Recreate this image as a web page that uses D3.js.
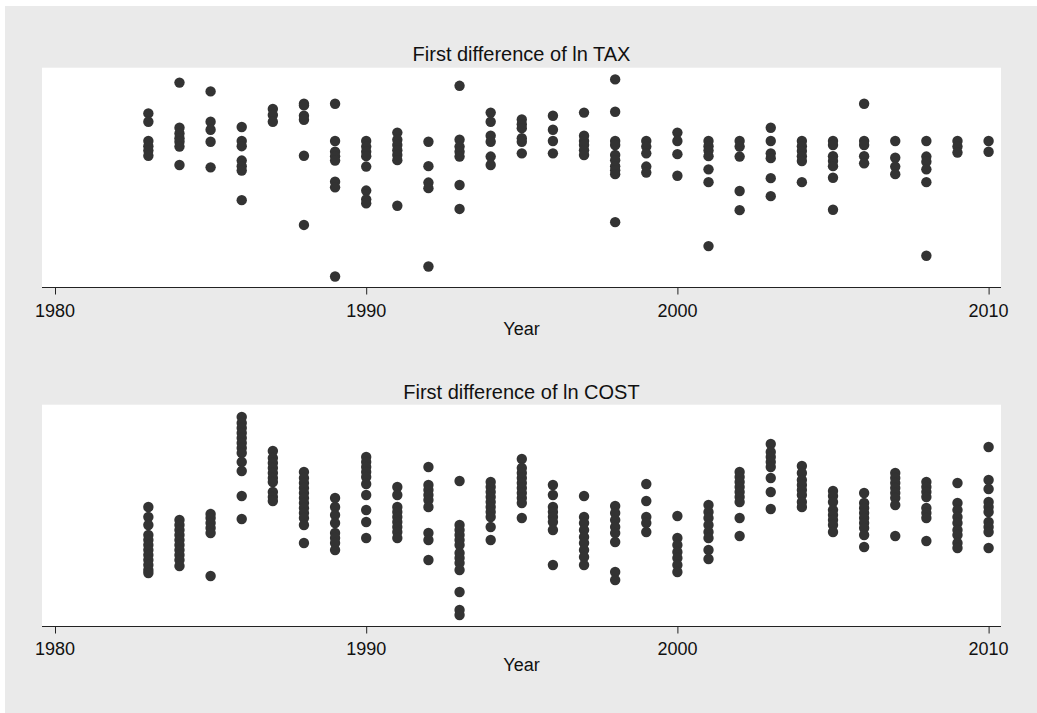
<!DOCTYPE html>
<html>
<head>
<meta charset="utf-8">
<script src="https://cdn.jsdelivr.net/npm/d3@7"></script>
<style>
  html, body { margin: 0; padding: 0; background: #ffffff; }
  svg { display: block; }
  text { font-family: "Liberation Sans", Arial, Helvetica, sans-serif; fill: #111; }
</style>
</head>
<body>
<svg id="chart" width="1037" height="713"></svg>
<script>
// Survey years (one column of points per year)
const years = [1983, 1984, 1985, 1986, 1987, 1988, 1989, 1990, 1991, 1992,
               1993, 1994, 1995, 1996, 1997, 1998, 1999, 2000, 2001, 2002,
               2003, 2004, 2005, 2006, 2007, 2008, 2009, 2010];

// First difference of ln TAX, one list of observations per year
const taxDiff = [
  [0.069, 0.048, 0, -0.013, -0.024, -0.037],
  [0.146, 0.033, 0.019, 0.007, -0.002, -0.014, -0.06],
  [0.124, 0.048, 0.028, -0.002, -0.066],
  [0.035, 0, -0.013, -0.049, -0.063, -0.074, -0.148],
  [0.08, 0.065, 0.048],
  [0.093, 0.089, 0.063, 0.053, -0.037, -0.21],
  [0.093, 0, -0.027, -0.038, -0.049, -0.102, -0.116, -0.339],
  [0, -0.014, -0.027, -0.038, -0.064, -0.124, -0.146, -0.156],
  [0.021, 0.003, -0.01, -0.023, -0.035, -0.048, -0.162],
  [-0.002, -0.063, -0.104, -0.118, -0.314],
  [0.138, 0.003, -0.014, -0.027, -0.039, -0.11, -0.17],
  [0.071, 0.048, 0.013, -0.002, -0.039, -0.06],
  [0.054, 0.042, 0.032, 0.007, -0.002, -0.031],
  [0.063, 0.028, 0, -0.031],
  [0.071, 0.013, 0, -0.01, -0.023, -0.035],
  [0.154, 0.073, 0, -0.01, -0.035, -0.048, -0.063, -0.073, -0.083, -0.203],
  [0, -0.014, -0.031, -0.064, -0.079],
  [0.021, 0, -0.033, -0.087],
  [0, -0.013, -0.024, -0.038, -0.071, -0.103, -0.263],
  [0, -0.014, -0.039, -0.125, -0.173],
  [0.033, 0, -0.031, -0.043, -0.093, -0.138],
  [0, -0.013, -0.025, -0.038, -0.05, -0.103],
  [0, -0.01, -0.038, -0.05, -0.063, -0.092, -0.172],
  [0.093, 0, -0.01, -0.038, -0.056],
  [0, -0.042, -0.064, -0.083],
  [0, -0.039, -0.052, -0.071, -0.103, -0.287],
  [0, -0.014, -0.029],
  [0, -0.027]
];

// First difference of ln COST, one list of observations per year
const costDiff = [
  [0.068, 0.058, 0.05, 0.04, 0.035, 0.03, 0.025, 0.02, 0.015, 0.01, 0.005, 0.002],
  [0.055, 0.05, 0.045, 0.04, 0.035, 0.03, 0.025, 0.02, 0.015, 0.009],
  [0.061, 0.057, 0.052, 0.047, 0.042, -0.001],
  [0.158, 0.152, 0.147, 0.142, 0.137, 0.132, 0.127, 0.122, 0.113, 0.104, 0.079, 0.056],
  [0.124, 0.117, 0.112, 0.107, 0.102, 0.097, 0.093, 0.083, 0.078, 0.074],
  [0.103, 0.097, 0.092, 0.087, 0.082, 0.077, 0.072, 0.067, 0.062, 0.057, 0.05, 0.032],
  [0.077, 0.068, 0.06, 0.052, 0.042, 0.037, 0.032, 0.025],
  [0.118, 0.113, 0.108, 0.103, 0.098, 0.091, 0.08, 0.065, 0.053, 0.037],
  [0.088, 0.08, 0.068, 0.063, 0.058, 0.053, 0.048, 0.043, 0.037],
  [0.108, 0.09, 0.085, 0.08, 0.075, 0.068, 0.042, 0.035, 0.015],
  [0.094, 0.05, 0.045, 0.04, 0.035, 0.03, 0.022, 0.017, 0.012, 0.005, -0.017, -0.035, -0.04],
  [0.093, 0.088, 0.083, 0.078, 0.073, 0.068, 0.063, 0.058, 0.048, 0.035],
  [0.116, 0.107, 0.102, 0.097, 0.092, 0.087, 0.082, 0.077, 0.072, 0.057],
  [0.09, 0.08, 0.068, 0.063, 0.058, 0.053, 0.045, 0.01],
  [0.079, 0.058, 0.052, 0.045, 0.038, 0.032, 0.025, 0.018, 0.01],
  [0.069, 0.062, 0.055, 0.048, 0.042, 0.033, 0.003, -0.005],
  [0.091, 0.074, 0.058, 0.052, 0.043],
  [0.059, 0.037, 0.03, 0.023, 0.017, 0.01, 0.003],
  [0.07, 0.063, 0.057, 0.05, 0.043, 0.037, 0.025, 0.016],
  [0.103, 0.098, 0.093, 0.088, 0.083, 0.078, 0.073, 0.057, 0.039],
  [0.131, 0.123, 0.118, 0.113, 0.108, 0.097, 0.083, 0.066],
  [0.109, 0.102, 0.095, 0.09, 0.085, 0.08, 0.073, 0.068],
  [0.084, 0.079, 0.073, 0.065, 0.06, 0.055, 0.05, 0.043],
  [0.082, 0.072, 0.067, 0.062, 0.057, 0.052, 0.047, 0.04, 0.028],
  [0.102, 0.097, 0.092, 0.087, 0.082, 0.077, 0.07, 0.039],
  [0.093, 0.088, 0.083, 0.078, 0.067, 0.062, 0.057, 0.034],
  [0.092, 0.072, 0.065, 0.058, 0.052, 0.045, 0.04, 0.032, 0.027],
  [0.128, 0.095, 0.086, 0.073, 0.068, 0.063, 0.053, 0.048, 0.043, 0.027]
];

// Year axis ticks
const yearTicks = [1980, 1990, 2000, 2010];

const svg = d3.select("#chart");

// Graph background
svg.append("rect")
  .attr("x", 5).attr("y", 6)
  .attr("width", 1032).attr("height", 707)
  .attr("fill", "#eaeaea");

const plotLeft = 42, plotRight = 1001;
const x = d3.scaleLinear().domain([1980, 2010]).range([55, 988.6]);

const panels = [
  { title: "First difference of ln TAX", values: taxDiff,
    top: 67.7, bottom: 287.5, yDomain: [-0.3665, 0.1833],
    titleY: 60.7, tickLabelY: 317.3, xTitleY: 335 },
  { title: "First difference of ln COST", values: costDiff,
    top: 404.7, bottom: 626.5, yDomain: [-0.0515, 0.1703],
    titleY: 399.3, tickLabelY: 654.5, xTitleY: 671 }
];

panels.forEach(p => {
  const g = svg.append("g");

  // White plot region
  g.append("rect")
    .attr("x", plotLeft).attr("y", p.top)
    .attr("width", plotRight - plotLeft).attr("height", p.bottom - p.top)
    .attr("fill", "#ffffff");

  const y = d3.scaleLinear().domain(p.yDomain).range([p.bottom, p.top]);

  // Points: one column per year
  const pts = [];
  years.forEach((yr, i) => p.values[i].forEach(v => pts.push({ yr, v })));
  g.append("g").selectAll("circle")
    .data(pts)
    .join("circle")
    .attr("cx", d => x(d.yr))
    .attr("cy", d => y(d.v))
    .attr("r", 5.2)
    .attr("fill", "#333333");

  // Horizontal axis
  const axis = d3.axisBottom(x)
    .tickValues(yearTicks)
    .tickFormat(d3.format("d"))
    .tickSize(7)
    .tickSizeOuter(0);
  const ax = g.append("g")
    .attr("transform", `translate(0,${p.bottom})`)
    .call(axis);
  ax.select(".domain").remove();
  ax.selectAll(".tick line").attr("stroke", "#222").attr("stroke-width", 1);
  ax.selectAll(".tick text").remove();
  g.append("line")
    .attr("x1", plotLeft).attr("x2", plotRight)
    .attr("y1", p.bottom).attr("y2", p.bottom)
    .attr("stroke", "#222").attr("stroke-width", 1.2);

  // Tick labels
  g.append("g").selectAll("text")
    .data(yearTicks)
    .join("text")
    .attr("x", d => x(d))
    .attr("y", p.tickLabelY)
    .attr("text-anchor", "middle")
    .style("font-size", "18px")
    .text(d => d);

  // Axis title
  g.append("text")
    .attr("x", (plotLeft + plotRight) / 2)
    .attr("y", p.xTitleY)
    .attr("text-anchor", "middle")
    .style("font-size", "18px")
    .text("Year");

  // Panel title
  g.append("text")
    .attr("x", (plotLeft + plotRight) / 2)
    .attr("y", p.titleY)
    .attr("text-anchor", "middle")
    .style("font-size", "20px")
    .text(p.title);
});
</script>
</body>
</html>
